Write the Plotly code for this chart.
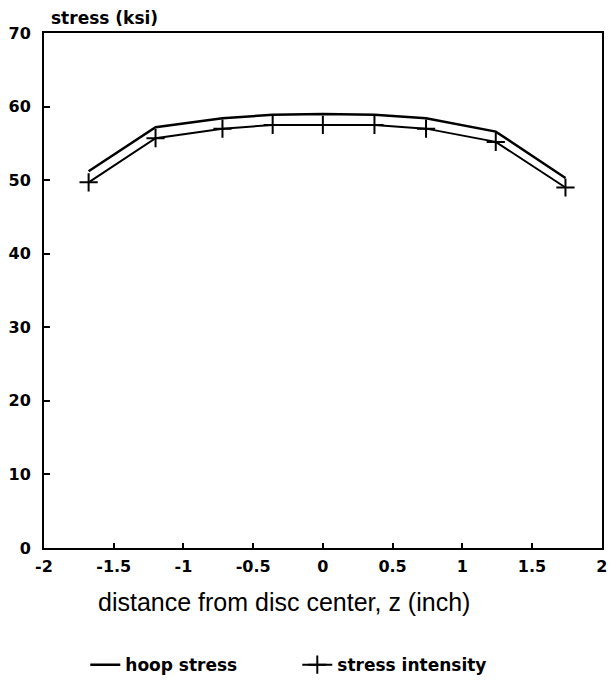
import plotly.graph_objects as go

# data
z_pos = [-1.68, -1.2, -0.72, -0.36, 0.0, 0.37, 0.74, 1.24, 1.74]
hoop_stress = [51.2, 57.2, 58.4, 58.9, 59.0, 58.9, 58.4, 56.6, 50.3]
stress_intensity = [49.7, 55.7, 57.0, 57.5, 57.5, 57.5, 57.0, 55.2, 49.0]

x_ticks = [-2, -1.5, -1, -0.5, 0, 0.5, 1, 1.5, 2]
x_tick_text = ["-2", "-1.5", "-1", "-0.5", "0", "0.5", "1", "1.5", "2"]
y_ticks = [0, 10, 20, 30, 40, 50, 60, 70]

BOLD = "DejaVu Sans, Verdana, sans-serif"
REG = "Liberation Sans, Arial, sans-serif"

fig = go.Figure()
fig.add_trace(go.Scatter(
    x=z_pos, y=hoop_stress, name="hoop stress", mode="lines",
    line=dict(color="black", width=2.5),
))
fig.add_trace(go.Scatter(
    x=z_pos, y=stress_intensity, name="stress intensity", mode="lines+markers",
    line=dict(color="black", width=2),
    marker=dict(symbol="cross-thin", size=13, line=dict(color="black", width=2)),
))

tick_font = dict(family=BOLD, size=16, color="black", weight=700)

fig.update_layout(
    width=607, height=674,
    paper_bgcolor="white", plot_bgcolor="white",
    margin=dict(l=36, r=13, t=25, b=134, autoexpand=False),
    showlegend=True,
    legend=dict(orientation="h", x=0.074, xanchor="left",
                yref="container", y=0.025, yanchor="middle",
                font=dict(family=BOLD, size=17, color="black", weight=700),
                itemwidth=30, traceorder="normal", entrywidth=167, entrywidthmode="pixels"),
    xaxis=dict(
        range=[-2, 2.002], tickvals=x_ticks, ticktext=x_tick_text,
        ticks="inside", ticklen=5, tickcolor="black", tickwidth=1.5,
        showgrid=False, zeroline=False,
        showline=True, linecolor="black", linewidth=2, mirror=True,
        tickfont=tick_font, ticklabelstandoff=3, ticklabeloverflow="allow",
    ),
    yaxis=dict(
        range=[0, 70], tickvals=y_ticks,
        ticks="inside", ticklen=6, tickcolor="black", tickwidth=1.5,
        showgrid=False, zeroline=False,
        showline=True, linecolor="black", linewidth=2, mirror=True,
        tickfont=tick_font, ticklabelstandoff=8,
    ),
    annotations=[
        dict(text="stress (ksi)", xref="paper", yref="paper", x=0.009, y=1.0,
             xanchor="left", yanchor="middle", yshift=15, showarrow=False,
             font=dict(family=BOLD, size=17, color="black", weight=700)),
        dict(text="distance from disc center, z (inch)", xref="paper", yref="paper",
             x=0.43, y=0, xanchor="center", yanchor="middle", yshift=-54, showarrow=False,
             font=dict(family=REG, size=25, color="black")),
    ],
)

fig.write_html("out.html")
